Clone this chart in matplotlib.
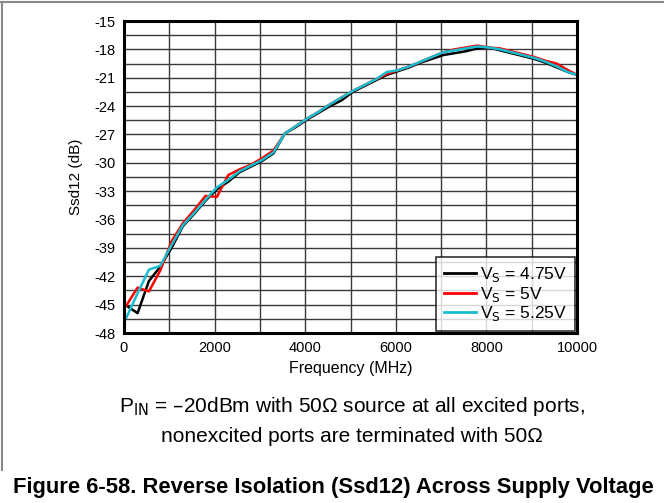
import matplotlib
matplotlib.use("Agg")
import matplotlib.pyplot as plt
from matplotlib.lines import Line2D

plt.rcParams["font.family"] = ["Liberation Sans", "DejaVu Sans"]
plt.rcParams["axes.unicode_minus"] = False

# Frequency points (MHz)
freq = [50, 300, 550, 800, 1050, 1300, 1550, 1800, 2050, 2300,
        2550, 2800, 3050, 3300, 3550, 3800, 4050, 4300, 4550, 4800,
        5050, 5300, 5550, 5800, 6050, 6300, 6550, 6800, 7050, 7300,
        7550, 7800, 8050, 8300, 8550, 8800, 9050, 9300, 9550, 9800, 10000]

# Ssd12 (dB) for each supply voltage
ssd12_475 = [-45.1, -45.9, -42.5, -41.0, -39.0, -36.7, -35.4, -34.0, -32.8, -32.0,
             -31.0, -30.4, -29.8, -29.0, -26.9, -26.2, -25.4, -24.7, -24.0, -23.4,
             -22.5, -21.9, -21.3, -20.7, -20.3, -19.9, -19.4, -19.0, -18.6, -18.4,
             -18.2, -17.9, -17.8, -18.1, -18.4, -18.7, -19.0, -19.4, -19.9, -20.4, -20.7]
ssd12_5 = [-45.1, -43.2, -43.6, -41.4, -38.3, -36.4, -35.0, -33.5, -33.6, -31.3,
           -30.7, -30.2, -29.5, -28.7, -26.9, -26.1, -25.3, -24.6, -23.8, -23.1,
           -22.4, -21.8, -21.2, -20.6, -20.2, -19.8, -19.3, -18.8, -18.3, -18.0,
           -17.8, -17.6, -17.8, -17.9, -18.2, -18.5, -18.8, -19.2, -19.5, -20.2, -20.7]
ssd12_525 = [-46.4, -43.8, -41.3, -40.9, -38.7, -36.6, -35.3, -33.9, -32.6, -31.8,
             -30.9, -30.3, -29.7, -28.9, -26.9, -26.1, -25.3, -24.6, -23.8, -23.1,
             -22.4, -21.8, -21.2, -20.4, -20.2, -19.8, -19.3, -18.8, -18.3, -18.1,
             -17.9, -17.7, -17.8, -18.0, -18.3, -18.6, -18.9, -19.3, -19.8, -20.4, -20.7]

labels = [r"V$_\mathrm{S}$ = 4.75V", r"V$_\mathrm{S}$ = 5V", r"V$_\mathrm{S}$ = 5.25V"]
colors = ["#000000", "#FF0000", "#17BECF"]

x_ticks = [0, 2000, 4000, 6000, 8000, 10000]
y_ticks = [-15, -18, -21, -24, -27, -30, -33, -36, -39, -42, -45, -48]

W, H = 664, 503
fig = plt.figure(figsize=(W / 100, H / 100), dpi=100)
ax = fig.add_axes([124 / W, 1 - 333 / H, (577 - 124) / W, (333 - 21) / H])

for y, c in zip([ssd12_475, ssd12_5, ssd12_525], colors):
    ax.plot(freq, y, color=c, lw=1.8)

ax.set_xlim(0, 10000)
ax.set_ylim(-48, -15)
ax.set_xticks(x_ticks)
ax.set_yticks(y_ticks)
ax.set_xticks(range(0, 10001, 1000), minor=True)
ax.set_yticks([-15 - 1.5 * i for i in range(23)], minor=True)
ax.grid(which="both", color="#3a3a3a", lw=1.0)
ax.set_axisbelow(True)
ax.tick_params(which="both", length=0, labelsize=10.5, pad=6)
for s in ax.spines.values():
    s.set_linewidth(2.2)
ax.set_xlabel("Frequency (MHz)", fontsize=11.5, labelpad=4)
ax.set_ylabel("Ssd12 (dB)", fontsize=11, labelpad=8)

handles = [Line2D([], [], color=c, lw=2) for c in colors]
leg = ax.legend(handles, labels, loc="lower right", fontsize=12.5, frameon=True,
                fancybox=False, borderaxespad=0.1, handlelength=1.85,
                labelspacing=0.05, borderpad=0.45, handletextpad=0.25)
leg.get_frame().set_edgecolor("black")
leg.get_frame().set_linewidth(1.2)

fig.text(352 / W, 1 - 406 / H,
         r"P$_\mathrm{IN}$ = –20dBm with 50Ω source at all excited ports,",
         ha="center", va="center", fontsize=15)
fig.text(352 / W, 1 - 437 / H, "nonexcited ports are terminated with 50Ω",
         ha="center", va="center", fontsize=15)
fig.text(333 / W, 1 - 488 / H,
         "Figure 6-58. Reverse Isolation (Ssd12) Across Supply Voltage",
         ha="center", va="center", fontsize=15.8, fontweight="bold")

# outer grey frame (top and left edges)
fig.add_artist(Line2D([0, 1], [1 - 2 / H, 1 - 2 / H], color="#8a8a8a", lw=1.5))
fig.add_artist(Line2D([2 / W, 2 / W], [1 - 2 / H, 1 - 470 / H], color="#8a8a8a", lw=1.5))

fig.savefig("out.png", dpi=100)
